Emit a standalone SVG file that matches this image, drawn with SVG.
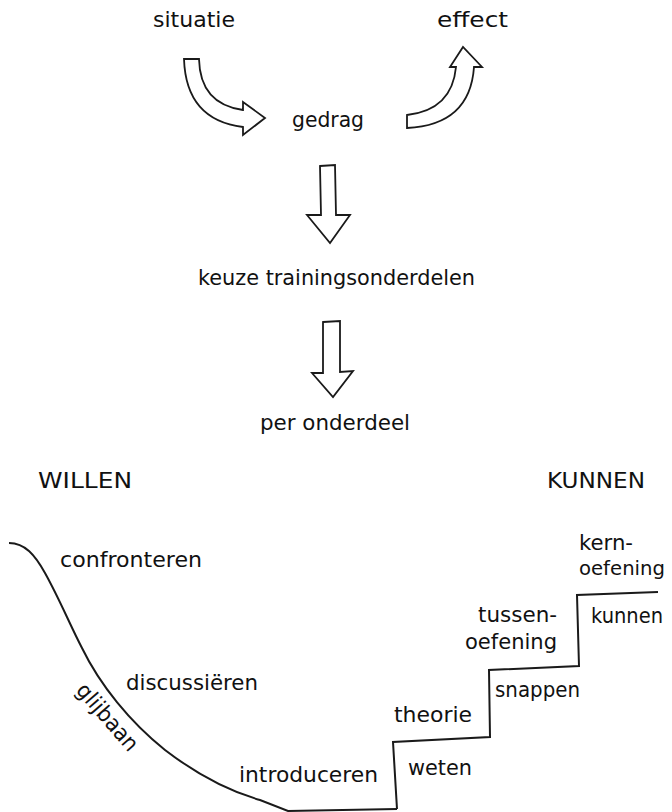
<svg xmlns="http://www.w3.org/2000/svg" width="672" height="812" viewBox="0 0 672 812">
<style>
text{font-family:"DejaVu Sans","Liberation Sans",sans-serif;font-size:22px;fill:#111}
.arrow{fill:#fff;stroke:#1a1a1a;stroke-width:1.8;stroke-linejoin:miter}
.line{fill:none;stroke:#1a1a1a;stroke-width:2;stroke-linejoin:miter}
</style>
<rect width="672" height="812" fill="#fff"/>
<g id="situatie"><text x="153" y="27" textLength="82" lengthAdjust="spacingAndGlyphs">situatie</text></g>
<g id="effect"><text x="437" y="27" textLength="71" lengthAdjust="spacingAndGlyphs">effect</text></g>
<g id="gedrag"><text x="292" y="127" textLength="72" lengthAdjust="spacingAndGlyphs">gedrag</text></g>
<g id="keuze"><text x="198" y="285" textLength="277" lengthAdjust="spacingAndGlyphs">keuze trainingsonderdelen</text></g>
<g id="per-onderdeel"><text x="260" y="430" textLength="150" lengthAdjust="spacingAndGlyphs">per onderdeel</text></g>
<g id="willen"><text x="38" y="488" textLength="94" lengthAdjust="spacingAndGlyphs">WILLEN</text></g>
<g id="kunnen-head"><text x="547" y="488" textLength="98" lengthAdjust="spacingAndGlyphs">KUNNEN</text></g>
<g id="glijbaan-curve">
<path class="line" d="M9,543 C25,543 35,555 45,573 C60,600 70,625 82,648 C100,685 130,722 165,750 C195,773 225,790 260,800 L288,811 L397,809"/>
<text x="0" y="0" text-anchor="middle" transform="translate(102,722) rotate(49)" textLength="82" lengthAdjust="spacingAndGlyphs">glijbaan</text>
</g>
<g id="confronteren"><text x="60" y="567" textLength="142" lengthAdjust="spacingAndGlyphs">confronteren</text></g>
<g id="discussieren"><text x="126" y="690" textLength="132" lengthAdjust="spacingAndGlyphs">discussiëren</text></g>
<g id="introduceren"><text x="239" y="782" textLength="139" lengthAdjust="spacingAndGlyphs">introduceren</text></g>
<g id="trap">
<path class="line" d="M397,809 L393,742 L490,737 L489,670 L579,666 L577,595 L658,592"/>
</g>
<g id="weten"><text x="408" y="775" textLength="64" lengthAdjust="spacingAndGlyphs">weten</text></g>
<g id="theorie"><text x="394" y="722" textLength="78" lengthAdjust="spacingAndGlyphs">theorie</text></g>
<g id="snappen"><text x="495" y="697" textLength="85" lengthAdjust="spacingAndGlyphs">snappen</text></g>
<g id="tussenoefening">
<text x="478" y="622" textLength="79" lengthAdjust="spacingAndGlyphs">tussen-</text>
<text x="465" y="649" textLength="92" lengthAdjust="spacingAndGlyphs">oefening</text>
</g>
<g id="kunnen"><text x="591" y="623" textLength="72" lengthAdjust="spacingAndGlyphs">kunnen</text></g>
<g id="kernoefening">
<text x="579" y="550" textLength="54" lengthAdjust="spacingAndGlyphs">kern-</text>
<text x="579" y="575" style="font-size:20px" textLength="86" lengthAdjust="spacingAndGlyphs">oefening</text>
</g>
<g id="connectors">
<path class="arrow" d="M184,59 Q186,120 243,127 L243,135 L265,118 L243,102 L243,110 Q200,104 199,59 Z"/>
<path class="arrow" d="M407,128 Q470,125 474,67 L482,67 L463,47 L450,67 L456,67 Q452,110 407,115 Z"/>
<path class="arrow" d="M320,166 L335,165 L336,215 L350,215 L330,243 L307,215 L321,215 Z"/>
<path class="arrow" d="M323,322 L340,321 L340,372 L353,371 L333,397 L312,373 L323,373 Z"/>
</g>
</svg>
